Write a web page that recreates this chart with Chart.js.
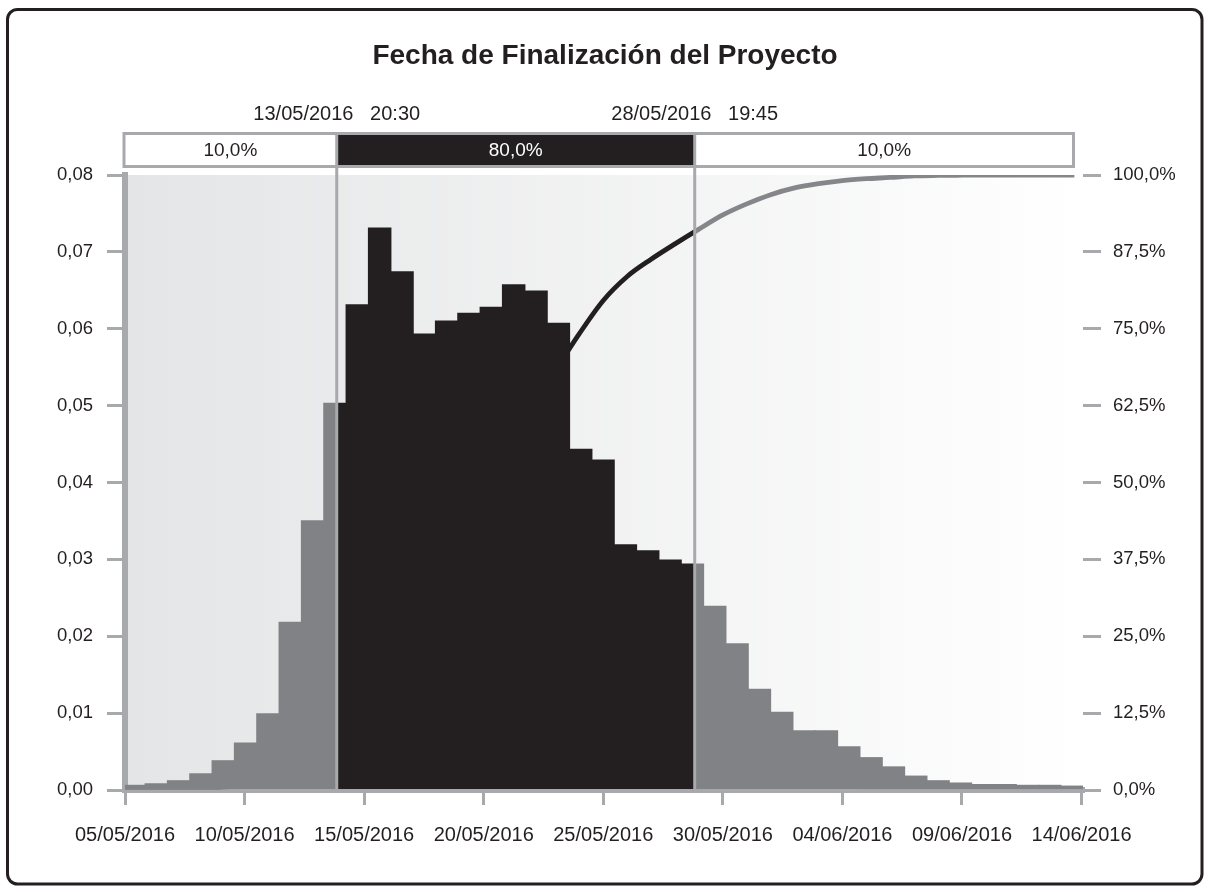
<!DOCTYPE html>
<html>
<head>
<meta charset="utf-8">
<title>Fecha de Finalización del Proyecto</title>
<script src="https://cdn.jsdelivr.net/npm/chart.js@4.4.1/dist/chart.umd.min.js"></script>
<style>
  html, body { margin: 0; padding: 0; background: #ffffff; }
  #wrap { position: relative; width: 1210px; height: 892px; }
</style>
</head>
<body>
<div id="wrap"><canvas id="chart"></canvas></div>
<script>
// ---- Data -------------------------------------------------------------
// Day 0 of the horizontal axis
const startDate = '2016-05-05T00:00';

// Histogram of simulated finish dates: probability density per day
const binStartDay = -0.092;   // left edge of the first bin (days from startDate)
const binWidthDay = 0.934;    // bin width (days)
const density = [
  0.0006, 0.0008, 0.0012, 0.0021, 0.0038, 0.0061, 0.0099, 0.0218, 0.0350, 0.0503,
  0.0631, 0.0731, 0.0674, 0.0593, 0.0610, 0.0620, 0.0628, 0.0657, 0.0649, 0.0607,
  0.0443, 0.0429, 0.0319, 0.0311, 0.0299, 0.0294, 0.0239, 0.0190, 0.0131, 0.0101,
  0.0077, 0.0077, 0.0056, 0.0042, 0.0030, 0.0018, 0.0012, 0.0009, 0.0007, 0.0007,
  0.0006, 0.0006, 0.0005
];

// Cumulative probability (%) of finishing by each day
const cumDay = [
  0, 1, 2, 3, 4, 5, 6, 7, 8, 9,
  10, 11, 12, 13, 14, 15, 16, 17, 18, 19,
  20, 21, 22, 23, 24, 25, 26, 27, 28, 29,
  30, 31, 32, 33, 34, 35, 36, 37, 38, 39, 39.7
];
const cumPct = [
  0.0, 0.06, 0.14, 0.26, 0.45, 0.8, 1.5, 3.2, 6.2, 10.7,
  16.7, 23.9, 30.7, 36.6, 42.8, 49.0, 55.3, 61.9, 68.2, 74.2,
  79.6, 83.5, 86.3, 88.8, 91.2, 93.5, 95.3, 96.8, 97.9, 98.6,
  99.1, 99.4, 99.6, 99.85, 99.93, 99.97, 100, 100, 100, 100, 100
];

// 10% / 90% percentile dates and the share of outcomes in each band
const bandEdges = ['2016-05-13T20:30', '2016-05-28T19:45'];
const bandShares = [10.0, 80.0, 10.0];

// Axis ticks
const dateTicks = ['05/05/2016', '10/05/2016', '15/05/2016', '20/05/2016', '25/05/2016',
                   '30/05/2016', '04/06/2016', '09/06/2016', '14/06/2016'];
const densityTicks = [0, 0.01, 0.02, 0.03, 0.04, 0.05, 0.06, 0.07, 0.08];
const pctTicks = [0, 12.5, 25, 37.5, 50, 62.5, 75, 87.5, 100];

// ---- Helpers ----------------------------------------------------------
const DAY_MS = 86400000;
const t0 = Date.parse(startDate);
const isoToDays = s => (Date.parse(s) - t0) / DAY_MS;
const dmyToDays = s => {
  const [d, m, y] = s.split('/');
  return isoToDays(`${y}-${m}-${d}T00:00`);
};
const pad2 = n => String(n).padStart(2, '0');
const fmtStamp = s => {
  const dt = new Date(Date.parse(s));
  return `${pad2(dt.getDate())}/${pad2(dt.getMonth() + 1)}/${dt.getFullYear()}   ` +
         `${pad2(dt.getHours())}:${pad2(dt.getMinutes())}`;
};
const fmtPct = v => v.toFixed(1).replace('.', ',') + '%';

const dateTickDays = dateTicks.map(dmyToDays);
const bandEdgeDays = bandEdges.map(isoToDays);

const FONT = "'Liberation Sans', Arial, Helvetica, sans-serif";
const INK = '#231f20';
const AXIS_GREY = '#a7a9ac';
const BAR_GREY = '#818285';
const LINE_GREY = '#858689';

// Horizontal gradient with hard stops: dark inside the 80 % band, grey outside
function bandGradient(chart, outside, inside) {
  const a = chart.chartArea;
  const x = chart.scales.x;
  if (!a || !x) return outside;
  const w = a.right - a.left;
  const f = bandEdgeDays.map(d => Math.min(1, Math.max(0, (x.getPixelForValue(d) - a.left) / w)));
  const g = chart.ctx.createLinearGradient(a.left, 0, a.right, 0);
  g.addColorStop(0, outside);
  g.addColorStop(f[0], outside);
  g.addColorStop(f[0], inside);
  g.addColorStop(f[1], inside);
  g.addColorStop(f[1], outside);
  g.addColorStop(1, outside);
  return g;
}

// ---- Plugins ----------------------------------------------------------
const frameAndBackground = {
  id: 'frameAndBackground',
  beforeDraw(chart) {
    const { ctx, chartArea: a } = chart;
    ctx.save();
    ctx.fillStyle = '#ffffff';
    ctx.fillRect(0, 0, chart.width, chart.height);
    const g = ctx.createLinearGradient(a.left, 0, a.right, 0);
    g.addColorStop(0, '#e4e5e6');
    g.addColorStop(1, '#ffffff');
    ctx.fillStyle = g;
    ctx.fillRect(a.left, a.top, a.right - a.left, a.bottom - a.top);
    ctx.lineWidth = 3;
    ctx.strokeStyle = INK;
    ctx.beginPath();
    ctx.roundRect(7.5, 9.5, 1194.5, 874.5, 10);
    ctx.stroke();
    ctx.restore();
  }
};

const bandMarkers = {
  id: 'bandMarkers',
  afterDraw(chart) {
    const { ctx, chartArea: a, scales: { x } } = chart;
    const xs = bandEdgeDays.map(d => x.getPixelForValue(d));
    const boxL = a.left - 1, boxR = a.right - 9.5, boxT = 133.5, boxB = 166.5;
    const cuts = [boxL, ...xs, boxR];
    ctx.save();
    for (let i = 0; i < 3; i++) {
      ctx.fillStyle = i === 1 ? INK : '#ffffff';
      ctx.fillRect(cuts[i], boxT, cuts[i + 1] - cuts[i], boxB - boxT);
    }
    ctx.strokeStyle = AXIS_GREY;
    ctx.lineWidth = 3;
    ctx.strokeRect(boxL, boxT, boxR - boxL, boxB - boxT);
    xs.forEach(px => {
      ctx.beginPath();
      ctx.moveTo(px, boxT - 1.5);
      ctx.lineTo(px, a.bottom);
      ctx.stroke();
    });
    ctx.textAlign = 'center';
    ctx.textBaseline = 'middle';
    ctx.font = `19px ${FONT}`;
    bandShares.forEach((s, i) => {
      ctx.fillStyle = i === 1 ? '#ffffff' : INK;
      ctx.fillText(fmtPct(s), (cuts[i] + cuts[i + 1]) / 2, (boxT + boxB) / 2 + 0.5);
    });
    ctx.font = `20px ${FONT}`;
    ctx.fillStyle = INK;
    bandEdges.forEach((s, i) => ctx.fillText(fmtStamp(s), xs[i], 114.5));
    ctx.restore();
  }
};

// ---- Chart ------------------------------------------------------------
const histogram = density.map((v, i) => ({ x: binStartDay + binWidthDay * (i + 0.5), y: v }));
const cumulative = cumDay.map((d, i) => ({ x: d, y: cumPct[i] }));

const tickFont = { family: FONT, size: 20 };
const yTickFont = { family: FONT, size: 18.5 };

new Chart(document.getElementById('chart'), {
  type: 'bar',
  data: {
    datasets: [
      {
        type: 'bar',
        label: 'Densidad',
        data: histogram,
        xAxisID: 'x',
        yAxisID: 'y',
        order: 1,
        grouped: false,
        barPercentage: 1,
        categoryPercentage: 1,
        borderWidth: 0,
        inflateAmount: 0.6,
        backgroundColor: ctx => bandGradient(ctx.chart, BAR_GREY, INK)
      },
      {
        type: 'line',
        label: 'Probabilidad acumulada',
        data: cumulative,
        xAxisID: 'x',
        yAxisID: 'y2',
        order: 2,
        borderWidth: 4.8,
        pointRadius: 0,
        fill: false,
        cubicInterpolationMode: 'monotone',
        borderColor: ctx => bandGradient(ctx.chart, LINE_GREY, INK)
      }
    ]
  },
  options: {
    responsive: true,
    maintainAspectRatio: false,
    devicePixelRatio: 1,
    animation: false,
    events: [],
    layout: { padding: 0 },
    plugins: {
      legend: { display: false },
      tooltip: { enabled: false },
      title: {
        display: true,
        text: 'Fecha de Finalización del Proyecto',
        color: INK,
        font: { family: FONT, size: 28, weight: 'bold' },
        padding: { top: 39, bottom: 102.4 }
      }
    },
    scales: {
      x: {
        type: 'linear',
        position: 'bottom',
        min: 0,
        max: 40.06,
        offset: false,
        z: 1,
        afterBuildTicks: s => { s.ticks = dateTickDays.map(v => ({ value: v })); },
        afterFit: s => { s.height = 102; },
        ticks: {
          autoSkip: false,
          maxRotation: 0,
          padding: 18,
          color: INK,
          font: tickFont,
          callback: v => {
            const i = dateTickDays.findIndex(d => Math.abs(d - v) < 0.01);
            return i < 0 ? '' : dateTicks[i];
          }
        },
        grid: {
          display: true, offset: false, drawOnChartArea: false, drawTicks: true,
          lineWidth: 3, color: AXIS_GREY, tickLength: 15, tickWidth: 3, tickColor: AXIS_GREY
        },
        border: { display: true, width: 6, color: AXIS_GREY }
      },
      y: {
        type: 'linear',
        position: 'left',
        min: 0,
        max: 0.08,
        z: 1,
        afterBuildTicks: s => { s.ticks = densityTicks.map(v => ({ value: v })); },
        afterFit: s => { s.width = 125; },
        ticks: {
          padding: 14,
          color: INK,
          font: yTickFont,
          callback: v => v.toFixed(2).replace('.', ',')
        },
        grid: {
          display: true, drawOnChartArea: false, drawTicks: true,
          lineWidth: 3, color: AXIS_GREY, tickLength: 18, tickWidth: 3, tickColor: AXIS_GREY
        },
        border: { display: true, width: 6, color: AXIS_GREY }
      },
      y2: {
        type: 'linear',
        position: 'right',
        min: 0,
        max: 100,
        afterBuildTicks: s => { s.ticks = pctTicks.map(v => ({ value: v })); },
        afterFit: s => { s.width = 127; },
        ticks: {
          padding: 12,
          color: INK,
          font: yTickFont,
          callback: v => fmtPct(v)
        },
        grid: {
          display: true, drawOnChartArea: false, drawTicks: true,
          lineWidth: 3, color: AXIS_GREY, tickLength: 18, tickWidth: 3, tickColor: AXIS_GREY
        },
        border: { display: false }
      }
    }
  },
  plugins: [frameAndBackground, bandMarkers]
});
</script>
</body>
</html>
